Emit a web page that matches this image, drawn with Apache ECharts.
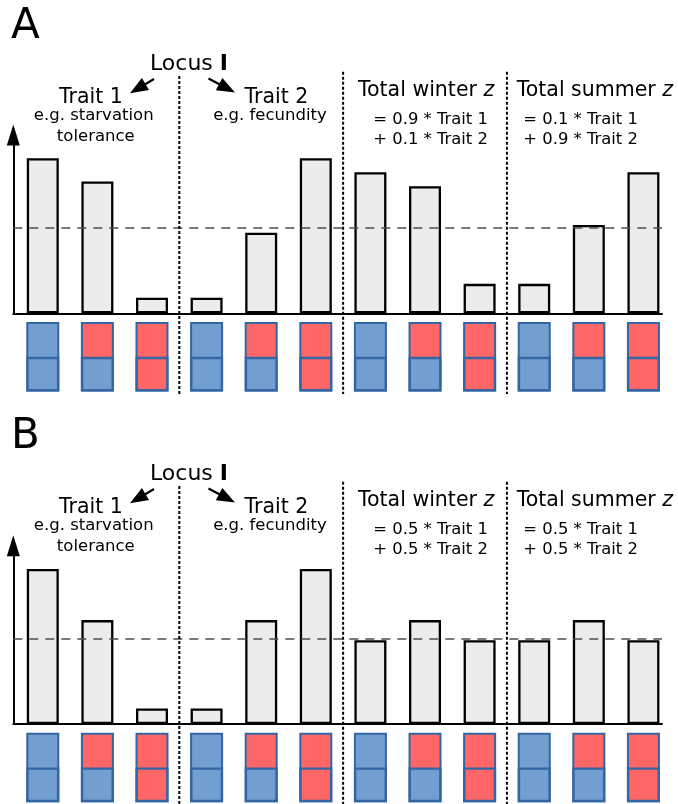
<!DOCTYPE html>
<html>
<head>
<meta charset="utf-8">
<script src="https://cdn.jsdelivr.net/npm/echarts@6/dist/echarts.min.js"></script>
<style>html,body{margin:0;padding:0;background:#fff}#c{width:678px;height:804px}</style>
</head>
<body>
<div id="c"></div>
<script>
// ---- data ----
const positions = [0, 1, 2, 3, 4, 5, 6, 7, 8, 9, 10, 11];
const groupNames = ['Trait 1', 'Trait 2', 'Total winter z', 'Total summer z'];
const genotypes = ['blue/blue', 'red/blue', 'red/red', 'blue/blue', 'red/blue', 'red/red',
                   'blue/blue', 'red/blue', 'red/red', 'blue/blue', 'red/blue', 'red/red'];
const valuesA = [1.00, 0.85, 0.10, 0.10, 0.52, 1.00, 0.91, 0.82, 0.19, 0.19, 0.57, 0.91];
const valuesB = [1.00, 0.67, 0.10, 0.10, 0.67, 1.00, 0.54, 0.67, 0.54, 0.54, 0.67, 0.54];
const meanA = 0.545;
const meanB = 0.545;
const upperAllele = ['blue', 'red', 'red', 'blue', 'red', 'red', 'blue', 'red', 'red', 'blue', 'red', 'red'];
const lowerAllele = ['blue', 'blue', 'red', 'blue', 'blue', 'red', 'blue', 'blue', 'red', 'blue', 'blue', 'red'];
const winterCoefA = ['= 0.9 * Trait 1', '+ 0.1 * Trait 2'];
const summerCoefA = ['= 0.1 * Trait 1', '+ 0.9 * Trait 2'];
const winterCoefB = ['= 0.5 * Trait 1', '+ 0.5 * Trait 2'];
const summerCoefB = ['= 0.5 * Trait 1', '+ 0.5 * Trait 2'];
const separators = [2.5, 5.5, 8.5];

// ---- styles ----
const FONT = '"DejaVu Sans", Verdana, sans-serif';
const alleleColor = { blue: '#729fcf', red: '#ff6666' };
const X_MIN = -0.54, X_MAX = 11.34;
const GRID_LEFT = 13.3, GRID_W = 648.7;
const BAR_H = 178.3, ALLELE_H = 69.5;
const panels = [
  { letter: 'A', values: valuesA, mean: meanA, winter: winterCoefA, summer: summerCoefA, dy: 0, base: 313.3 },
  { letter: 'B', values: valuesB, mean: meanB, winter: winterCoefB, summer: summerCoefB, dy: 410, base: 724 }
];

const chart = echarts.init(document.getElementById('c'), null, { renderer: 'canvas' });

const grids = [], xAxes = [], yAxes = [], series = [];
panels.forEach((p, pi) => {
  const gBar = pi * 2, gAl = pi * 2 + 1;
  grids.push({ left: GRID_LEFT, width: GRID_W, top: p.base - BAR_H, height: BAR_H });
  grids.push({ left: GRID_LEFT, width: GRID_W, top: p.base + 8.7, height: ALLELE_H });
  xAxes.push({
    type: 'value', gridIndex: gBar, min: X_MIN, max: X_MAX,
    axisLine: { show: true, onZero: false, lineStyle: { color: '#000', width: 2 } },
    axisTick: { show: false }, axisLabel: { show: false }, splitLine: { show: false }
  });
  xAxes.push({ type: 'value', gridIndex: gAl, min: X_MIN, max: X_MAX, show: false, splitLine: { show: false } });
  yAxes.push({
    type: 'value', gridIndex: gBar, min: 0, max: 1.15,
    axisLine: { show: true, onZero: false, symbol: ['none', 'triangle'], symbolSize: [13, 21],
      lineStyle: { color: '#000', width: 2 } },
    axisTick: { show: false }, axisLabel: { show: false }, splitLine: { show: false }
  });
  yAxes.push({ type: 'value', gridIndex: gAl, min: 0, max: 2, show: false, splitLine: { show: false } });

  series.push({
    type: 'bar', xAxisIndex: gBar, yAxisIndex: gBar, barWidth: 32,
    data: positions.map((x, i) => [x, p.values[i]]),
    itemStyle: { color: '#ececec', borderColor: '#000', borderWidth: 2.3 },
    markLine: {
      silent: true, symbol: 'none', label: { show: false },
      lineStyle: { color: '#4d4d4d', type: [9, 7], width: 1.5 },
      data: [{ yAxis: p.mean }]
    },
    z: 2
  });
  // upper allele: a full-height box (0..2), the lower allele box (0..1) is drawn over it
  series.push({
    type: 'bar', xAxisIndex: gAl, yAxisIndex: gAl, barWidth: 33, barGap: '-100%',
    data: positions.map((x, i) => ({ value: [x, 2], itemStyle: { color: alleleColor[upperAllele[i]] } })),
    itemStyle: { borderColor: '#3465a4', borderWidth: 2 }, z: 2
  });
  series.push({
    type: 'bar', xAxisIndex: gAl, yAxisIndex: gAl, barWidth: 33, barGap: '-100%',
    data: positions.map((x, i) => ({ value: [x, 1], itemStyle: { color: alleleColor[lowerAllele[i]] } })),
    itemStyle: { borderColor: '#3465a4', borderWidth: 2.4 }, z: 3
  });
});

chart.setOption({
  animation: false,
  backgroundColor: '#fff',
  grid: grids, xAxis: xAxes, yAxis: yAxes, series: series
});

// ---- annotations ----
function txt(text, x, y, size, align, extra) {
  return {
    type: 'text', silent: true, z: 20,
    style: Object.assign({ text: text, x: x, y: y, fontSize: size, fontFamily: FONT, fill: '#000',
      align: align, verticalAlign: 'middle' }, extra || {})
  };
}
function arrow(tail, tip, len, wid) {
  const dx = tip[0] - tail[0], dy = tip[1] - tail[1];
  const L = Math.sqrt(dx * dx + dy * dy), ux = dx / L, uy = dy / L;
  const bx = tip[0] - ux * len, by = tip[1] - uy * len;
  const px = -uy * wid / 2, py = ux * wid / 2;
  return [
    { type: 'line', silent: true, shape: { x1: tail[0], y1: tail[1], x2: bx + ux * 2, y2: by + uy * 2 }, style: { stroke: '#000', lineWidth: 2.2 } },
    { type: 'polygon', silent: true, shape: { points: [tip, [bx + px, by + py], [bx - px, by - py]] }, style: { fill: '#000' } }
  ];
}

const graphics = [];
panels.forEach((p, pi) => {
  const d = p.dy;
  graphics.push(txt(p.letter, 11, 27.3 + d, 42, 'left'));
  graphics.push(txt('Locus {b|I}', 189, 64.6 + d, 22, 'center',
    { rich: { b: { fontSize: 22, fontFamily: FONT, fontWeight: 'bold' } } }));
  graphics.push(...arrow([154, 79 + d], [130, 93.3 + d], 18, 14));
  graphics.push(...arrow([208.5, 78.5 + d], [235, 92.5 + d], 18, 14));
  graphics.push(txt(groupNames[0], 91, 98.1 + d, 20.5, 'center'));
  graphics.push(txt('e.g. starvation', 93.7, 115.9 + d, 16.5, 'center'));
  graphics.push(txt('tolerance', 95.8, 136.9 + d, 16.5, 'center'));
  graphics.push(txt(groupNames[1], 276.5, 98.1 + d, 20.5, 'center'));
  graphics.push(txt('e.g. fecundity', 270, 115.9 + d, 16.5, 'center'));
  graphics.push(txt('Total winter {i|z}', 358, 90.8 + d, 20.5, 'left',
    { rich: { i: { fontSize: 20.5, fontFamily: FONT, fontStyle: 'italic' } } }));
  graphics.push(txt('Total summer {i|z}', 516.7, 90.8 + d, 20.5, 'left',
    { rich: { i: { fontSize: 20.5, fontFamily: FONT, fontStyle: 'italic' } } }));
  graphics.push(txt(p.winter.join('\n'), 373.3, 130.2 + d, 16.4, 'left', { lineHeight: 20 }));
  graphics.push(txt(p.summer.join('\n'), 523.3, 130.2 + d, 16.4, 'left', { lineHeight: 20 }));
  separators.forEach((s, si) => {
    const x = chart.convertToPixel({ xAxisIndex: pi * 2 }, s);
    graphics.push({
      type: 'line', silent: true,
      shape: { x1: x, y1: (si === 0 ? 76 : 71.7) + d, x2: x, y2: 394 + d },
      style: { stroke: '#000', lineWidth: 2, lineDash: [3, 2] }, z: 10
    });
  });
});
chart.setOption({ graphic: graphics });
</script>
</body>
</html>
